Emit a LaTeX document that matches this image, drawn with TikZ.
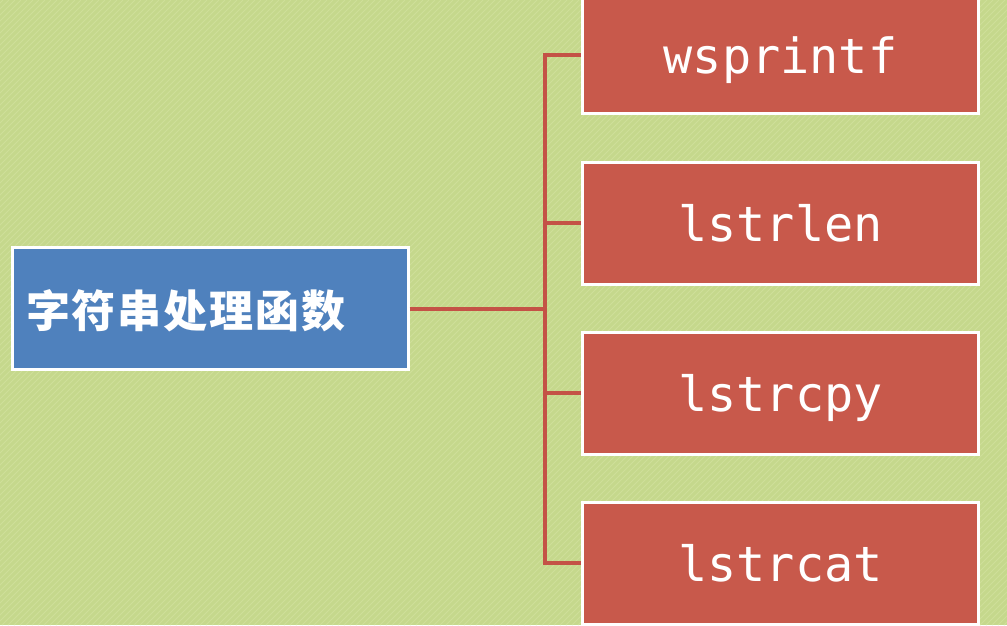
\documentclass[tikz,border=0pt]{standalone}
\usepackage{fontspec}
\newfontfamily\cjk{Noto Sans CJK SC}
\newfontfamily\monofnt{DejaVu Sans Mono}
\definecolor{bggreen}{RGB}{197,216,140}
\definecolor{hatchgreen}{RGB}{206,223,153}
\definecolor{boxred}{RGB}{200,89,75}
\definecolor{linered}{RGB}{196,82,70}
\definecolor{boxblue}{RGB}{79,129,189}
\tikzset{
  redbox/.style={rectangle, draw=white, line width=3pt, fill=boxred,
    minimum width=396pt, minimum height=122pt, inner sep=0pt,
    text=white, font=\monofnt\fontsize{48.5}{50}\selectfont,
    text height=36pt, text depth=0pt},
  bluebox/.style={rectangle, draw=white, line width=3pt, fill=boxblue,
    minimum width=396pt, minimum height=122pt, inner sep=0pt},
  cjklabel/.style={text=white, inner sep=0pt, font=\cjk\bfseries\fontsize{44}{50}\selectfont},
  conn/.style={draw=linered, line width=4pt},
  hatch/.style={draw=hatchgreen, line width=0.8pt}
}
\begin{document}
\begin{tikzpicture}[x=1pt,y=-1pt]
\useasboundingbox (0,0) rectangle (1007,625);
\fill[bggreen] (0,0) rectangle (1007,625);
\begin{scope}
\clip (0,0) rectangle (1007,625);
\foreach \i in {-640,-634,...,1010} \draw[hatch] (\i,625) -- ({\i+625},0);
\end{scope}
\node[bluebox] (root) at (210,308.5) {};
\node[cjklabel] (roottext) at (186,311) {字\hspace{2pt}符\hspace{2pt}串\hspace{2pt}处\hspace{2pt}理\hspace{2pt}函\hspace{2pt}数};
\node[redbox, minimum height=116pt] (r1) at (780.5,55) {wsprintf};
\node[redbox] (r2) at (780.5,223) {lstrlen};
\node[redbox] (r3) at (780.5,393) {lstrcpy};
\node[redbox] (r4) at (780.5,563) {lstrcat};
\coordinate (hub) at (545,308.5);
\draw[conn] (root.east) -- (hub);
\draw[conn, line cap=rect] (hub |- r1.west) -- (hub |- r4.west);
\draw[conn] (hub |- r1.west) -- (r1.west);
\draw[conn] (hub |- r2.west) -- (r2.west);
\draw[conn] (hub |- r3.west) -- (r3.west);
\draw[conn] (hub |- r4.west) -- (r4.west);
\end{tikzpicture}
\end{document}
